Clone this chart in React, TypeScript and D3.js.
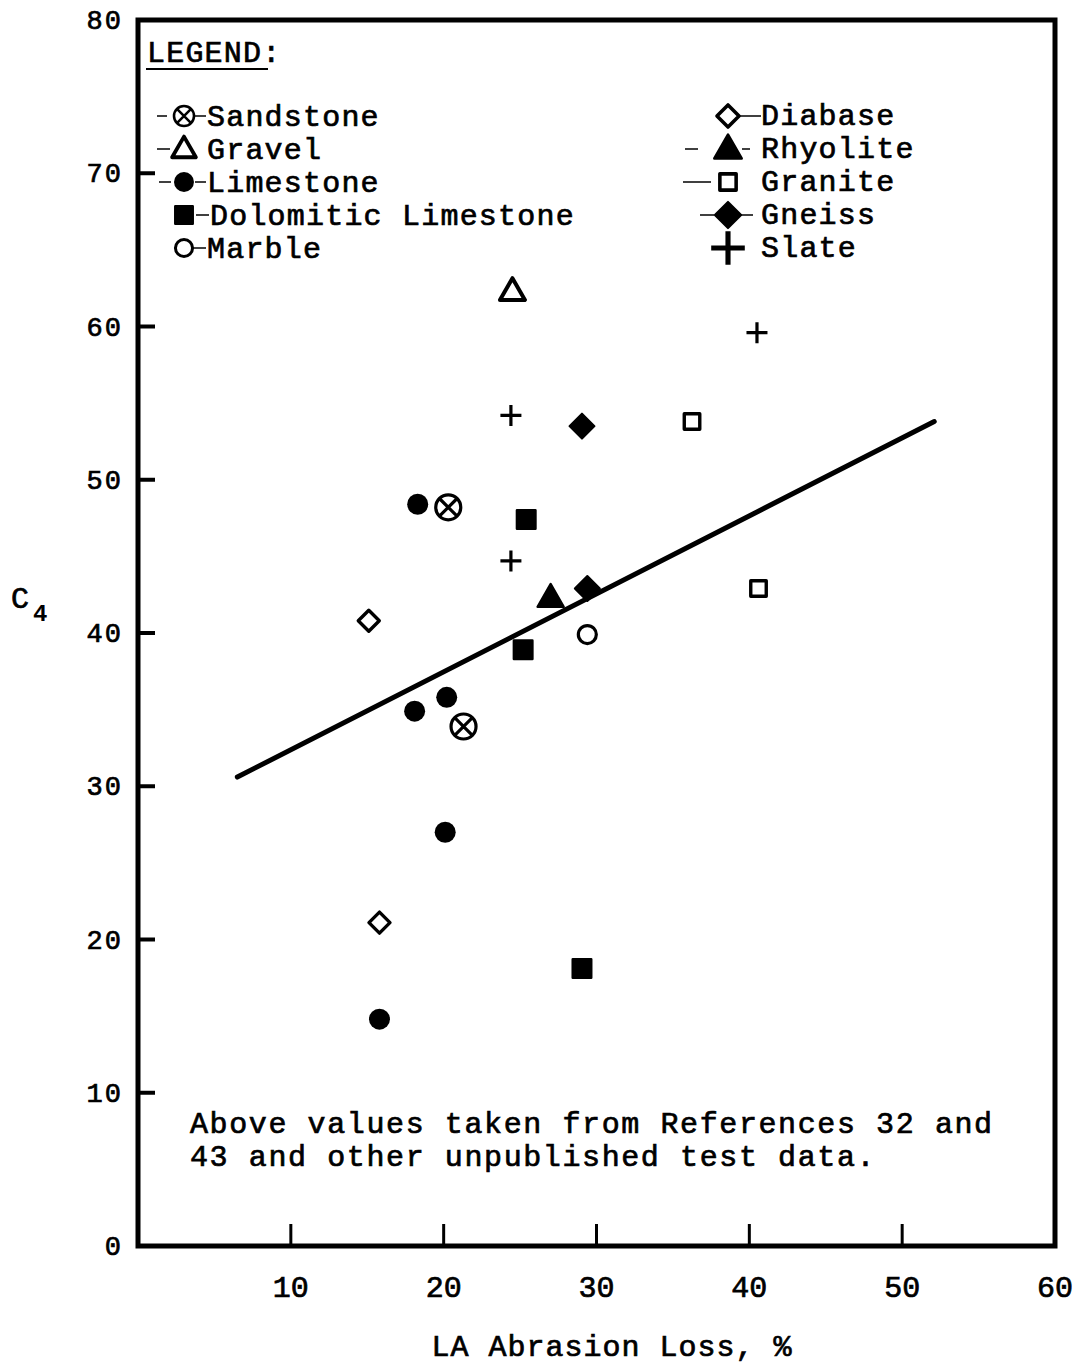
import React from 'react';
import * as d3 from 'd3';

// ---------- data ----------
const xTicks = [10, 20, 30, 40, 50, 60];
const yTicks = [0, 10, 20, 30, 40, 50, 60, 70, 80];

const sandstone: [number, number][] = [[20.3, 48.2], [21.3, 33.9]];
const gravel: [number, number][] = [[24.5, 62.3]];
const limestone: [number, number][] = [[18.3, 48.4], [18.1, 34.9], [20.2, 35.8], [20.1, 27.0], [15.8, 14.8]];
const dolomiticLimestone: [number, number][] = [[25.4, 47.4], [25.2, 38.9], [29.05, 18.1]];
const marble: [number, number][] = [[29.4, 39.9]];
const diabase: [number, number][] = [[15.1, 40.8], [15.8, 21.1]];
const rhyolite: [number, number][] = [[27.0, 42.3]];
const granite: [number, number][] = [[36.25, 53.8], [40.6, 42.9]];
const gneiss: [number, number][] = [[29.05, 53.5], [29.4, 42.9]];
const slate: [number, number][] = [[24.4, 54.2], [24.4, 44.7], [40.5, 59.6]];

const fitLine: [number, number][] = [[6.5, 30.6], [52.1, 53.8]];

const leftLegend = ['Sandstone', 'Gravel', 'Limestone', 'Dolomitic Limestone', 'Marble'];
const rightLegend = ['Diabase', 'Rhyolite', 'Granite', 'Gneiss', 'Slate'];

const noteLines = ['Above values taken from References 32 and', '43 and other unpublished test data.'];

// ---------- marker shapes ----------
type Kind = 'circleX' | 'openTri' | 'dot' | 'filledSq' | 'openCircle' | 'openDiamond' | 'filledTri' | 'openSq' | 'filledDiamond' | 'plus';

const triType = {
  draw(ctx: any, size: number) {
    const w = Math.sqrt(size);
    const h = w * 0.87;
    ctx.moveTo(0, -h * 0.6);
    ctx.lineTo(w / 2, h * 0.4);
    ctx.lineTo(-w / 2, h * 0.4);
    ctx.closePath();
  },
};
const diamondType = {
  draw(ctx: any, size: number) {
    const r = Math.sqrt(size) / 2;
    ctx.moveTo(0, -r);
    ctx.lineTo(r, 0);
    ctx.lineTo(0, r);
    ctx.lineTo(-r, 0);
    ctx.closePath();
  },
};
const plusType = {
  draw(ctx: any, size: number) {
    const r = Math.sqrt(size) / 2;
    ctx.moveTo(-r, 0);
    ctx.lineTo(r, 0);
    ctx.moveTo(0, -r);
    ctx.lineTo(0, r);
  },
};
const xType = {
  draw(ctx: any, size: number) {
    const a = (Math.sqrt(size) / 2) * Math.SQRT1_2;
    ctx.moveTo(-a, -a);
    ctx.lineTo(a, a);
    ctx.moveTo(a, -a);
    ctx.lineTo(-a, a);
  },
};

const sym = (type: any, size: number) => d3.symbol().type(type).size(size)() as string;

function Marker({ kind, x, y, s = 1 }: { kind: Kind; x: number; y: number; s?: number }) {
  const t = `translate(${x},${y}) scale(${s})`;
  const k = 'black';
  switch (kind) {
    case 'circleX':
      return (
        <g transform={t}>
          <path d={sym(d3.symbolCircle, Math.PI * 12.5 * 12.5)} fill="white" stroke={k} strokeWidth={3.2} />
          <path d={sym(xType, 25 * 25)} fill="none" stroke={k} strokeWidth={3.2} />
        </g>
      );
    case 'openTri':
      return <path transform={t} d={sym(triType, 25 * 25)} fill="white" stroke={k} strokeWidth={4} strokeLinejoin="round" />;
    case 'filledTri':
      return <path transform={t} d={sym(triType, 26 * 26)} fill={k} stroke={k} strokeWidth={2.5} strokeLinejoin="round" />;
    case 'dot':
      return <path transform={t} d={sym(d3.symbolCircle, Math.PI * 10.5 * 10.5)} fill={k} />;
    case 'openCircle':
      return <path transform={t} d={sym(d3.symbolCircle, Math.PI * 9 * 9)} fill="white" stroke={k} strokeWidth={3.2} />;
    case 'filledSq':
      return <path transform={t} d={sym(d3.symbolSquare, 18.5 * 18.5)} fill={k} stroke={k} strokeWidth={2.5} strokeLinejoin="round" />;
    case 'openSq':
      return <path transform={t} d={sym(d3.symbolSquare, 15.5 * 15.5)} fill="white" stroke={k} strokeWidth={3.4} strokeLinejoin="round" />;
    case 'openDiamond':
      return <path transform={t} d={sym(diamondType, 21 * 21)} fill="white" stroke={k} strokeWidth={3.4} strokeLinejoin="round" />;
    case 'filledDiamond':
      return <path transform={t} d={sym(diamondType, 25 * 25)} fill={k} stroke={k} strokeWidth={2} strokeLinejoin="round" />;
    case 'plus':
      return <path transform={t} d={sym(plusType, 21 * 21)} fill="none" stroke={k} strokeWidth={3.2} />;
  }
  return null;
}

const seriesList: { data: [number, number][]; kind: Kind }[] = [
  { data: sandstone, kind: 'circleX' },
  { data: gravel, kind: 'openTri' },
  { data: limestone, kind: 'dot' },
  { data: dolomiticLimestone, kind: 'filledSq' },
  { data: marble, kind: 'openCircle' },
  { data: diabase, kind: 'openDiamond' },
  { data: rhyolite, kind: 'filledTri' },
  { data: granite, kind: 'openSq' },
  { data: gneiss, kind: 'filledDiamond' },
  { data: slate, kind: 'plus' },
];

const leftKinds: Kind[] = ['circleX', 'openTri', 'dot', 'filledSq', 'openCircle'];
const rightKinds: Kind[] = ['openDiamond', 'filledTri', 'openSq', 'filledDiamond', 'plus'];
// little typewriter leader dashes [leftStart, leftEnd, rightStart, rightEnd] relative to marker centre (0 = none)
const leftDashes = [[-27, -17, 10, 22], [-27, -14, 0, 0], [-25, -13, 11, 22], [0, 0, 12, 25], [0, 0, 9, 22]];
const rightDashes = [[0, 0, 12, 33], [-43, -30, 14, 22], [-45, -17, 0, 0], [-28, -14, 11, 25], [0, 0, 0, 0]];

export default function App() {
  const W = 1080;
  const H = 1367;
  const x = d3.scaleLinear().domain([0, 60]).range([138, 1055]);
  const y = d3.scaleLinear().domain([0, 80]).range([1246, 20]);
  const font = "'Liberation Mono', 'DejaVu Sans Mono', monospace";
  const line = d3.line<[number, number]>().x((d) => x(d[0])).y((d) => y(d[1]));

  const leftX = 184;
  const leftTextX = 207;
  const rightX = 728;
  const rightTextX = 761;
  const rowY = (i: number) => 116 + i * 33;
  const ink = { stroke: 'black', strokeWidth: 0.7 } as const;

  return (
    <svg width={W} height={H} style={{ position: 'absolute', left: 0, top: 0, background: 'white' }} fontFamily={font}>
      <rect x={0} y={0} width={W} height={H} fill="white" />
      {/* frame */}
      <rect x={x(0)} y={y(80)} width={x(60) - x(0)} height={y(0) - y(80)} fill="none" stroke="black" strokeWidth={5} />
      {/* y ticks */}
      {yTicks.filter((v) => v > 0 && v < 80).map((v) => (
        <line key={'yt' + v} x1={x(0)} x2={x(0) + 17} y1={y(v)} y2={y(v)} stroke="black" strokeWidth={4} />
      ))}
      {yTicks.map((v) => (
        <text key={'yl' + v} x={123} y={y(v) + 9} fontSize={27} textAnchor="end" letterSpacing={2} {...ink}>
          {v}
        </text>
      ))}
      {/* x ticks */}
      {xTicks.filter((v) => v < 60).map((v) => (
        <line key={'xt' + v} x1={x(v)} x2={x(v)} y1={y(0)} y2={y(0) - 22} stroke="black" strokeWidth={3} />
      ))}
      {xTicks.map((v) => (
        <text key={'xl' + v} x={x(v)} y={1297} fontSize={30} textAnchor="middle" {...ink}>
          {v}
        </text>
      ))}
      {/* axis titles */}
      <text x={612} y={1356} fontSize={30} textAnchor="middle" letterSpacing={1} {...ink}>
        LA Abrasion Loss, %
      </text>
      <text x={11} y={608} fontSize={30} {...ink}>C</text>
      <text x={33} y={621} fontSize={24} fontWeight="bold">4</text>

      {/* regression line */}
      <path d={line(fitLine) as string} fill="none" stroke="black" strokeWidth={5} strokeLinecap="round" />

      {/* points */}
      {seriesList.map((s, si) =>
        s.data.map((d, i) => <Marker key={si + '-' + i} kind={s.kind} x={x(d[0])} y={y(d[1])} />)
      )}

      {/* legend */}
      <text x={147} y={62} fontSize={30} letterSpacing={1.2} {...ink}>LEGEND:</text>
      <line x1={146} x2={268} y1={69} y2={69} stroke="black" strokeWidth={2} />
      {leftLegend.map((name, i) => {
        const dsh = leftDashes[i];
        return (
          <g key={'ll' + i}>
            {dsh[0] !== dsh[1] && <line x1={leftX + dsh[0]} x2={leftX + dsh[1]} y1={rowY(i)} y2={rowY(i)} stroke="black" strokeWidth={1.5} />}
            {dsh[2] !== dsh[3] && <line x1={leftX + dsh[2]} x2={leftX + dsh[3]} y1={rowY(i)} y2={rowY(i)} stroke="black" strokeWidth={1.5} />}
            <Marker kind={leftKinds[i]} x={leftX} y={rowY(i)} s={i === 0 ? 0.8 : 0.95} />
            <text x={leftTextX + (i === 3 ? 3 : 0)} y={rowY(i) + 10} fontSize={30} letterSpacing={1.2} xmlSpace="preserve" {...ink}>
              {name}
            </text>
          </g>
        );
      })}
      {rightLegend.map((name, i) => {
        const dsh = rightDashes[i];
        return (
          <g key={'rl' + i}>
            {dsh[0] !== dsh[1] && <line x1={rightX + dsh[0]} x2={rightX + dsh[1]} y1={rowY(i)} y2={rowY(i)} stroke="black" strokeWidth={1.5} />}
            {dsh[2] !== dsh[3] && <line x1={rightX + dsh[2]} x2={rightX + dsh[3]} y1={rowY(i)} y2={rowY(i)} stroke="black" strokeWidth={1.5} />}
            <Marker kind={rightKinds[i]} x={rightX} y={rowY(i)} s={i === 4 ? 1.6 : 1.05} />
            <text x={rightTextX} y={rowY(i) + 9} fontSize={30} letterSpacing={1.2} {...ink}>
              {name}
            </text>
          </g>
        );
      })}

      {/* note */}
      {noteLines.map((t, i) => (
        <text key={'n' + i} x={190} y={1133 + i * 33} fontSize={30} letterSpacing={1.6} xmlSpace="preserve" {...ink}>
          {t}
        </text>
      ))}
    </svg>
  );
}
